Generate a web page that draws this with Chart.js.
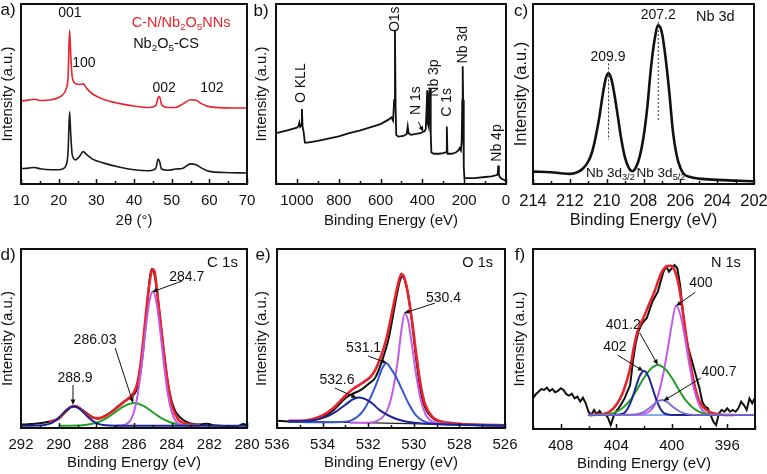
<!DOCTYPE html>
<html>
<head>
<meta charset="utf-8">
<script src="https://cdn.jsdelivr.net/npm/chart.js@4.4.1/dist/chart.umd.min.js"></script>
<style>
  body { margin: 0; background: #fff; }
  #wrap { position: relative; width: 767px; height: 474px; }
  #wrap canvas { position: absolute; left: 0; top: 0; }
</style>
</head>
<body>
<div id="wrap">
  <canvas id="pa" width="767" height="474"></canvas>
  <canvas id="pb" width="767" height="474"></canvas>
  <canvas id="pc" width="767" height="474"></canvas>
  <canvas id="pd" width="767" height="474"></canvas>
  <canvas id="pe" width="767" height="474"></canvas>
  <canvas id="pf" width="767" height="474"></canvas>
</div>
<script>
// ---- a) XRD ----
var xrdAngle   = [10,12,13.5,15,18,20,21,22,22.5,22.9,23.2,23.6,24.5,25.5,26.5,27.5,29,32,36,40,44,45.8,46.4,46.8,47.3,49,51,53,55,56.5,58,60,64,70];
var xrdCNNb2O5 = [46.2,46.6,47.1,46.4,46.8,48.1,49.4,53,59.5,85.5,72,59.5,55.8,55.3,55.6,53,50,47,44.8,43.3,42.5,43.5,48,48.6,44,42.5,42.5,44.5,46.8,46.5,44.5,43,42.3,42.2];
var xrdNb2O5CS = [8.5,8.8,9.2,8.5,7.9,7.9,8.3,10.5,18,40.1,28,16.2,13.4,15.3,18,16.2,13.8,11.6,9.4,7.9,7.4,8.8,13.8,12.5,8.3,7.6,8.3,8.8,11.2,10.7,8.8,7,6.4,6.1];
var xrdTicks   = [10,20,30,40,50,60,70];

// ---- b) survey ----
var surveyEnergy = [1100,1050,1000,992,988,984,979,976,973,968,962,950,900,850,800,750,700,650,600,560,548,540,535,531,528,525,515,490,475,470,466,455,430,410,398,390,384,380,377,374,370,366,363,360,357,345,320,300,290,285,283,280,260,240,228,222,216,212,209,207,205,203,201,199,150,100,70,50,40,37,34,30,20,10,0];
var surveyCounts = [28.2,29.7,31.3,32.2,34.1,31.9,32.8,41.6,31.9,29.1,23,23,23.9,25.2,26.5,28.2,29.7,31.5,33.3,35.9,37,35.2,46.6,85.3,42.9,27.3,26.3,26.7,27.8,31.9,28.2,27.3,27.8,28.2,28.9,29.3,30.4,41.1,52.1,33.7,31.9,46.6,53,28.2,17.5,16.8,16.8,17.1,17.5,18,31.9,16.8,16.8,17.5,18.6,19.9,18.6,23.6,46.6,65.4,46.6,24.5,9.8,3.3,3.3,3.9,4.2,4.8,5.2,10.3,5.2,3.9,2.8,2.4,1.5];
var surveyTicks  = [1000,800,600,400,200,0];

// ---- c) Nb 3d ----
var nb3dEnergy = [214,213,212.5,212,211.6,211.3,211,210.8,210.6,210.4,210.2,210.05,209.9,209.75,209.6,209.4,209.2,209,208.8,208.6,208.4,208.2,208,207.8,207.6,207.4,207.2,207,206.8,206.6,206.4,206.2,206,205.8,205.5,205,204,203,202];
var nb3dCounts = [6.9,6.5,6,5.6,6.5,8.5,12.5,17.5,26,37,50.5,58.5,61.6,58.5,51,38,24.5,14.5,9,7.1,9.5,15.5,26,42,64,80,88.1,84,70,51,29,16,9,5.5,4,3,2.3,1.9,1.5];
var nb3dTicks  = [214,212,210,208,206,204,202];

// ---- d) C 1s ----
var c1sEnergy = [292,291.5,291,290.6,290.3,290,289.8,289.5,289.3,289.1,288.9,288.7,288.4,288.1,287.9,287.6,287.3,287,286.7,286.4,286.1,285.9,285.7,285.5,285.3,285.15,285.05,284.95,284.8,284.6,284.4,284.2,284,283.8,283.6,283.4,283,282.5,282.1,281.8,281,280.5,280.2,280];
var c1sRaw    = [1.9,2.2,2.6,3.3,4.1,5.2,7.4,10.2,11.9,12.1,11.2,9.7,7.4,5.6,5.2,6.5,8.4,10.8,13.4,15.8,17.7,20.4,27.9,44.6,68.8,84.6,88.8,87.4,78.1,59.5,40.9,25.1,14.9,9.3,6.5,4.6,2.6,2,2.4,1.5,1.1,1.1,2.2,1.9];
var c1sFitE   = [290.5,290,289.7,289.4,289.2,289,288.7,288.4,288.1,287.8,287.5,287.2,286.9,286.6,286.3,286,285.8,285.6,285.4,285.25,285.1,285,284.9,284.75,284.6,284.4,284.2,284,283.8,283.6,283.3,283,282.5];
var c1sFit    = [3.5,5.2,8.5,11.5,12.3,11.8,9.5,7,5.6,5.6,6.8,8.8,11.3,14,16.5,20,26,40,60,75,86,88.5,87,74,60,41,25,13,7.5,4.2,2.6,2,1.6];
var c1s284E   = [287,286.5,286.2,286,285.8,285.6,285.4,285.2,285,284.8,284.6,284.4,284.2,284,283.8,283.5,283,282.5];
var c1s284    = [1.3,1.75,4.1,9,18.8,34.4,53.4,69.8,76.3,69.8,53.4,34.4,18.8,9,4.1,1.75,1.3,1.3];
var c1s286E   = [290,289,288.5,288,287.5,287,286.5,286,285.5,285,284.5,284,283.5,283,282.5];
var c1s286    = [1.3,1.4,1.8,2.9,5.2,8.8,12.4,13.9,12.4,8.8,5.2,2.9,1.8,1.4,1.3];
var c1s289E   = [292,291,290.5,290.2,289.9,289.6,289.4,289.2,289,288.8,288.5,288.2,287.9,287.5,287,286,284,282,280];
var c1s289    = [1.3,1.4,2.3,4,6.7,9.9,11.4,12,11.4,9.9,6.7,4,2.3,1.5,1.3,1.3,1.3,1.3,1.3];
var c1sTicks  = [292,290,288,286,284,282,280];

// ---- e) O 1s ----
var o1sEnergy = [536,535.5,535,534.5,534,533.5,533,532.7,532.3,532,531.7,531.4,531.1,530.8,530.6,530.5,530.3,530.1,529.9,529.7,529.5,529.2,529,528,527,526];
var o1sRaw    = [4.1,3.7,3.7,4.1,5.9,10.2,16.7,19,21.4,24.5,27.9,37.2,50.2,70.6,82.7,84.6,78,61.3,39,20.4,11.2,5.9,4.1,2.2,1.5,1.3];
var o1sFitE   = [535.5,535,534.5,534,533.5,533,532.7,532.4,532.1,531.8,531.5,531.2,530.9,530.7,530.55,530.45,530.3,530.1,529.9,529.7,529.5,529.2,529,528.5,528,527,526];
var o1sFit    = [4,4,4.8,7,11.5,18,21.5,24,26.5,30,38,50,68,80,86,85,78,62,42,24,13,6.5,4.5,3,2.3,1.8,1.5];
var o1s532E   = [535.5,535,534.5,534,533.5,533,532.7,532.4,532.1,531.8,531.5,531,530.5,530,529,528,527,526];
var o1s532    = [3.7,3.8,4.2,5.5,8.5,13,15.8,17.1,16,13.5,10,6.3,4,3,2.2,1.8,1.5,1.3];
var o1s531E   = [535.5,534,533,532.5,532.2,531.9,531.6,531.4,531.2,531,530.8,530.5,530.2,529.9,529.6,529.2,528.5,527,526];
var o1s531    = [3.5,3.2,3.5,6,10,17,26,33,36.2,33,29,21,13,7,4,2.5,2,1.5,1.3];
var o1s530E   = [532.8,532,531.6,531.3,531.1,530.9,530.7,530.55,530.4,530.25,530.1,529.9,529.7,529.5,529.3,529,528.5];
var o1s530    = [3,3,4,7,12,22,38,54,64,60,48,30,16,8,4.5,2.8,2.2];
var o1sBaseE  = [535.5,526];
var o1sBase   = [3.8,1.3];
var o1sTicks  = [536,534,532,530,528,526];

// ---- f) N 1s ----
var n1sEnergy = [410,409.8,409.6,409.4,409.2,409,408.8,408.6,408.4,408.2,408,407.8,407.6,407.4,407.2,407,406.8,406.6,406.4,406.2,406,405.8,405.6,405.4,405.2,405,404.8,404.6,404.4,404.2,404,403.8,403.6,403.4,403.2,403,402.8,402.6,402.4,402.2,402,401.8,401.6,401.4,401.2,401,400.8,400.6,400.4,400.2,400,399.8,399.6,399.4,399.2,399,398.8,398.6,398.4,398.2,398,397.8,397.6,397.4,397.2,397,396.8,396.6,396.4,396.2,396,395.8,395.6,395.4,395.2,395,394.8,394.6,394.4,394.2,394];
var n1sRaw    = [17,19.3,20.7,22.2,21.7,23,21.1,22.2,20.4,21.1,22.6,21.7,19.3,18.5,19.6,17,18,15.2,17.4,14.3,9.6,7.8,10.6,8.1,10,7.8,8.7,6.3,2.2,6.9,10,11.9,14.3,17,20.7,24.4,37.4,47.6,54.1,57.8,60,61.5,66.1,70.7,73.5,76.3,81.9,87.4,90.2,87.4,89.3,91.1,89.3,80,65.2,52.2,44.8,39.3,33.7,28.1,22.6,15.2,12.4,11.5,7.8,4.1,2.2,8.7,10.6,9.6,11.5,9.6,10.6,9.6,11.5,15.2,13.3,10.6,17,14.3,17.4];
var n1sFitE   = [406,405,404.5,404,403.5,403,402.7,402.4,402,401.6,401.2,400.8,400.4,400.1,399.8,399.5,399.2,398.9,398.6,398.3,398,397.5,397,396.5,396,395.5];
var n1sFit    = [7.8,8.1,9.5,13.3,20.7,33.7,46.7,55.9,62.4,69.8,77.2,85.9,90.2,90.7,88.3,80,65.2,48.5,33.7,22.6,15.2,10.6,8.7,8.1,7.8,7.8];
var n1s402E   = [406,404.4,404,403.5,403.2,402.9,402.6,402.3,402,401.7,401.4,401.1,400.8,400.5,400,399.6,394];
var n1s402    = [7.8,7.8,7.9,8.5,11,16,23,29.5,32.2,29.5,23,16,11,8.5,7.8,7.8,7.8];
var n1s401E   = [406,405,404.5,404,403.5,403,402.5,402,401.5,401,400.5,400,399.5,399,398.5,398,397.5,397,396,394];
var n1s401    = [7.8,7.9,8.2,9.5,12,16,22,28.5,33.5,35.6,33.5,28.5,22,16,12,9.5,8.3,7.9,7.8,7.8];
var n1s400E   = [406,402.5,402,401.5,401.2,400.9,400.6,400.3,400,399.7,399.4,399.1,398.8,398.5,398.2,397.9,397.6,397.2,396.8,394];
var n1s400    = [7.8,7.9,8.5,10.5,14,21,31,44,58,68.5,64,53,39,26,17,11.5,9,8,7.8,7.8];
var n1s4007E  = [406,403,402.5,402,401.5,401.1,400.7,400.3,399.9,399.4,398.9,398.4,394];
var n1s4007   = [7.8,7.9,8.3,9.6,12.2,14.8,16.1,14.8,12.2,9.6,8.3,7.9,7.8];
var n1sBaseE  = [406,394];
var n1sBase   = [7.8,7.8];
var n1sTicks  = [408,404,400,396];

var FONT = "'Liberation Sans', Arial, sans-serif";
var RED = '#e8232b', PINK = '#c25ce6', GREEN = '#23a023', NAVY = '#1c2796', BLUE = '#3558d6', VIOLET = '#7d6ccf', SKY = '#5b8fe6';
Chart.defaults.font.family = FONT;
Chart.defaults.color = '#111';

function line(xs, ys, color, width, smooth) {
  return {
    data: xs.map(function (v, i) { return {x: v, y: ys[i]}; }),
    borderColor: color, borderWidth: width, pointRadius: 0, fill: false,
    tension: 0, cubicInterpolationMode: smooth ? 'monotone' : 'default'
  };
}

// text with _{sub} parts
function rich(ctx, str, x, y, size, color, align, rot) {
  var parts = [];
  str.replace(/_\{([^}]*)\}|([^_]+)/g, function (m, sub, txt) {
    parts.push(sub !== undefined ? [sub, true] : [txt, false]);
  });
  var w = 0;
  parts.forEach(function (p) { ctx.font = (p[1] ? size * 0.68 : size) + 'px ' + FONT; w += ctx.measureText(p[0]).width; });
  ctx.save();
  ctx.translate(x, y);
  if (rot) ctx.rotate(rot);
  ctx.fillStyle = color || '#111';
  ctx.textBaseline = 'middle';
  ctx.textAlign = 'left';
  var cx = align === 'left' ? 0 : -w / 2;
  parts.forEach(function (p) {
    ctx.font = (p[1] ? size * 0.68 : size) + 'px ' + FONT;
    ctx.fillText(p[0], cx, p[1] ? size * 0.32 : 0);
    cx += ctx.measureText(p[0]).width;
  });
  ctx.restore();
}

function deco(chart, p) {
  var ctx = chart.ctx, a = chart.chartArea, sx = chart.scales.x, sy = chart.scales.y;
  ctx.save();
  // minor / major ticks, pointing inwards
  ctx.strokeStyle = '#111';
  ctx.lineWidth = 1.5;
  var n = Math.round((p.max - p.min) / p.minor);
  for (var i = 0; i <= n; i++) {
    var v = p.min + i * p.minor;
    var px = Math.round(sx.getPixelForValue(v)) + 0.5;
    var major = Math.abs(v / p.step - Math.round(v / p.step)) < 1e-6;
    ctx.beginPath();
    ctx.moveTo(px, a.bottom);
    ctx.lineTo(px, a.bottom - (major ? 5 : 3));
    ctx.stroke();
  }
  // frame
  ctx.lineWidth = 2;
  ctx.strokeRect(a.left, a.top, a.right - a.left, a.bottom - a.top);
  // dotted guides
  (p.guides || []).forEach(function (g) {
    ctx.save();
    ctx.setLineDash([2, 2]);
    ctx.lineWidth = 1;
    ctx.strokeStyle = '#333';
    var gx = sx.getPixelForValue(g.x);
    ctx.beginPath();
    ctx.moveTo(gx, sy.getPixelForValue(g.y1));
    ctx.lineTo(gx, sy.getPixelForValue(g.y2));
    ctx.stroke();
    ctx.restore();
  });
  // arrows
  (p.arrows || []).forEach(function (r) {
    var x1 = sx.getPixelForValue(r[0]), y1 = sy.getPixelForValue(r[1]);
    var x2 = sx.getPixelForValue(r[2]), y2 = sy.getPixelForValue(r[3]);
    var ang = Math.atan2(y2 - y1, x2 - x1);
    ctx.strokeStyle = '#111';
    ctx.fillStyle = '#111';
    ctx.lineWidth = 1;
    ctx.beginPath();
    ctx.moveTo(x1, y1);
    ctx.lineTo(x2 - 4 * Math.cos(ang), y2 - 4 * Math.sin(ang));
    ctx.stroke();
    ctx.beginPath();
    ctx.moveTo(x2, y2);
    ctx.lineTo(x2 - 6 * Math.cos(ang - 0.4), y2 - 6 * Math.sin(ang - 0.4));
    ctx.lineTo(x2 - 6 * Math.cos(ang + 0.4), y2 - 6 * Math.sin(ang + 0.4));
    ctx.closePath();
    ctx.fill();
  });
  // labels
  (p.notes || []).forEach(function (t) {
    rich(ctx, t.t, sx.getPixelForValue(t.x), sy.getPixelForValue(t.y), t.size || 14, t.color,
         t.rot ? 'left' : 'center', t.rot ? -Math.PI / 2 : 0);
  });
  // panel letter
  rich(ctx, p.letter[0], p.letter[1], p.letter[2], 17, '#111', 'center', 0);
  ctx.restore();
}

function panel(id, p) {
  var A = p.area;
  var fs = p.fs || 15;
  var yW = A.L - p.yTitleX + fs / 2;
  var bottomRow = A.T > 200;
  new Chart(document.getElementById(id), {
    type: 'line',
    data: { datasets: p.series },
    options: {
      responsive: false,
      animation: false,
      events: [],
      layout: { padding: { left: p.yTitleX - fs / 2, top: A.T, right: 767 - A.R, bottom: 474 - A.B - 45 } },
      plugins: { legend: { display: false }, tooltip: { enabled: false } },
      scales: {
        x: {
          type: 'linear', min: p.min, max: p.max, reverse: p.reverse,
          grid: { display: false }, border: { display: false },
          afterBuildTicks: function (s) { s.ticks = p.ticks.map(function (v) { return {value: v}; }); },
          ticks: { autoSkip: false, maxRotation: 0, padding: 1.5, color: '#111',
                   font: { size: fs, lineHeight: 1 }, callback: function (v) { return String(v); } },
          title: { display: true, text: p.xTitle, color: '#111', font: { size: fs, lineHeight: 1 },
                   padding: { top: 0, bottom: bottomRow ? 2.5 : 0.5 } },
          afterFit: function (s) { s.height = 45; s.paddingLeft = 0; s.paddingRight = 0; }
        },
        y: {
          min: 0, max: 100,
          grid: { display: false }, border: { display: false },
          ticks: { display: false },
          title: { display: true, text: 'Intensity (a.u.)', color: '#111', font: { size: fs, lineHeight: 1 }, padding: 0 },
          afterFit: function (s) { s.width = yW; s.paddingTop = 0; s.paddingBottom = 0; }
        }
      }
    },
    plugins: [{ id: 'deco', afterDraw: function (chart) { deco(chart, p); } }]
  });
}

// a) XRD
panel('pa', {
  area: {L: 21, T: 4, R: 247, B: 184}, yTitleX: 8,
  min: 10, max: 70, reverse: false, step: 10, minor: 5, ticks: xrdTicks, xTitle: '2θ (°)',
  series: [
    line(xrdAngle, xrdCNNb2O5, RED, 1.6, true),
    line(xrdAngle, xrdNb2O5CS, '#1a1a1a', 1.6, true)
  ],
  notes: [
    {t: '001', x: 23, y: 95}, {t: '100', x: 26.7, y: 67},
    {t: '002', x: 48, y: 53}, {t: '102', x: 60.7, y: 53},
    {t: 'C-N/Nb_{2}O_{5}NNs', x: 52.5, y: 89.5, color: RED, size: 14.5},
    {t: 'Nb_{2}O_{5}-CS', x: 48.5, y: 78, size: 14.5}
  ],
  letter: ['a)', 8, 10]
});

// b) survey
panel('pb', {
  area: {L: 276, T: 4, R: 506, B: 184}, yTitleX: 262,
  min: 0, max: 1100, reverse: true, step: 200, minor: 100, ticks: surveyTicks, xTitle: 'Binding Energy (eV)',
  series: [ line(surveyEnergy, surveyCounts, '#111', 1.8, false) ],
  notes: [
    {t: 'O KLL', x: 980, y: 45, rot: true}, {t: 'O1s', x: 531, y: 84.4, rot: true},
    {t: 'N 1s', x: 432, y: 38.3, rot: true}, {t: 'Nb 3p', x: 343, y: 48.5, rot: true},
    {t: 'C 1s', x: 281, y: 37.4, rot: true}, {t: 'Nb 3d', x: 204, y: 67, rot: true},
    {t: 'Nb 4p', x: 41.5, y: 12.4, rot: true}
  ],
  arrows: [[419.5, 34.6, 395.5, 29]],
  letter: ['b)', 261, 11]
});

// c) Nb 3d
panel('pc', {
  area: {L: 533, T: 4, R: 754, B: 184}, yTitleX: 521, fs: 16.5,
  min: 202, max: 214, reverse: true, step: 2, minor: 1, ticks: nb3dTicks, xTitle: 'Binding Energy (eV)',
  series: [ line(nb3dEnergy, nb3dCounts, '#111', 2.6, true) ],
  notes: [
    {t: '209.9', x: 209.93, y: 70.5}, {t: '207.2', x: 207.2, y: 94},
    {t: 'Nb 3d', x: 204.1, y: 92.8, size: 14.5},
    {t: 'Nb 3d_{3/2}', x: 209.8, y: 6.1, size: 13.5}, {t: 'Nb 3d_{5/2}', x: 207.05, y: 6.1, size: 13.5}
  ],
  guides: [{x: 209.9, y1: 67, y2: 24.4}, {x: 207.2, y1: 90, y2: 34.4}],
  letter: ['c)', 521, 11]
});

// d) C 1s
panel('pd', {
  area: {L: 21, T: 249, R: 247, B: 428}, yTitleX: 8,
  min: 280, max: 292, reverse: true, step: 2, minor: 1, ticks: c1sTicks, xTitle: 'Binding Energy (eV)',
  series: [
    line(c1s289E, c1s289, NAVY, 2, true),
    line(c1s284E, c1s284, PINK, 2, true),
    line(c1s286E, c1s286, GREEN, 2, true),
    line(c1sFitE, c1sFit, RED, 2.6, true),
    line(c1sEnergy, c1sRaw, '#111', 2, true)
  ],
  notes: [
    {t: 'C 1s', x: 281.3, y: 92, size: 15}, {t: '284.7', x: 283.2, y: 84.4},
    {t: '286.03', x: 288.07, y: 49.2}, {t: '288.9', x: 289.13, y: 28}
  ],
  arrows: [[283.45, 82.1, 285.04, 76], [287.0, 44.7, 286.05, 14], [289.24, 24, 289.24, 12.8]],
  letter: ['d)', 8, 255]
});

// e) O 1s
panel('pe', {
  area: {L: 277, T: 249, R: 505, B: 428}, yTitleX: 262,
  min: 526, max: 536, reverse: true, step: 2, minor: 1, ticks: o1sTicks, xTitle: 'Binding Energy (eV)',
  series: [
    line(o1s532E, o1s532, NAVY, 2, true),
    line(o1s531E, o1s531, BLUE, 2, true),
    line(o1s530E, o1s530, PINK, 2, true),
    line(o1sBaseE, o1sBase, '#222', 1.2, false),
    line(o1sFitE, o1sFit, RED, 2.6, true),
    line(o1sEnergy, o1sRaw, '#111', 2, true)
  ],
  notes: [
    {t: 'O 1s', x: 527.2, y: 92, size: 14.5}, {t: '530.4', x: 528.7, y: 72.6},
    {t: '531.1', x: 532.2, y: 44.7}, {t: '532.6', x: 533.37, y: 26.8}
  ],
  arrows: [[529.07, 69.8, 530.43, 64.2], [532.0, 40.2, 531.18, 36.3], [533.46, 22.3, 532.5, 16.8]],
  letter: ['e)', 263, 255]
});

// f) N 1s
panel('pf', {
  area: {L: 533, T: 249, R: 755, B: 429}, yTitleX: 520,
  min: 394, max: 410, reverse: true, step: 4, minor: 2, ticks: n1sTicks, xTitle: 'Binding Energy (eV)',
  series: [
    line(n1s4007E, n1s4007, VIOLET, 1.8, true),
    line(n1s402E, n1s402, NAVY, 2, true),
    line(n1s401E, n1s401, GREEN, 2, true),
    line(n1s400E, n1s400, PINK, 2, true),
    line(n1sBaseE, n1sBase, SKY, 1.5, false),
    line(n1sFitE, n1sFit, RED, 2.6, true),
    line(n1sEnergy, n1sRaw, '#111', 2, false)
  ],
  notes: [
    {t: 'N 1s', x: 396.1, y: 92.2, size: 14.5}, {t: '400', x: 397.9, y: 81},
    {t: '401.2', x: 403.5, y: 57.8}, {t: '402', x: 404.1, y: 45.6}, {t: '400.7', x: 396.6, y: 31.7}
  ],
  arrows: [[398.3, 76, 399.7, 68.3], [402.3, 53.3, 401.0, 35.6], [403.9, 41, 402.05, 32.2], [397.9, 28.3, 400.6, 15.6]],
  letter: ['f)', 520, 255]
});
</script>
</body>
</html>
